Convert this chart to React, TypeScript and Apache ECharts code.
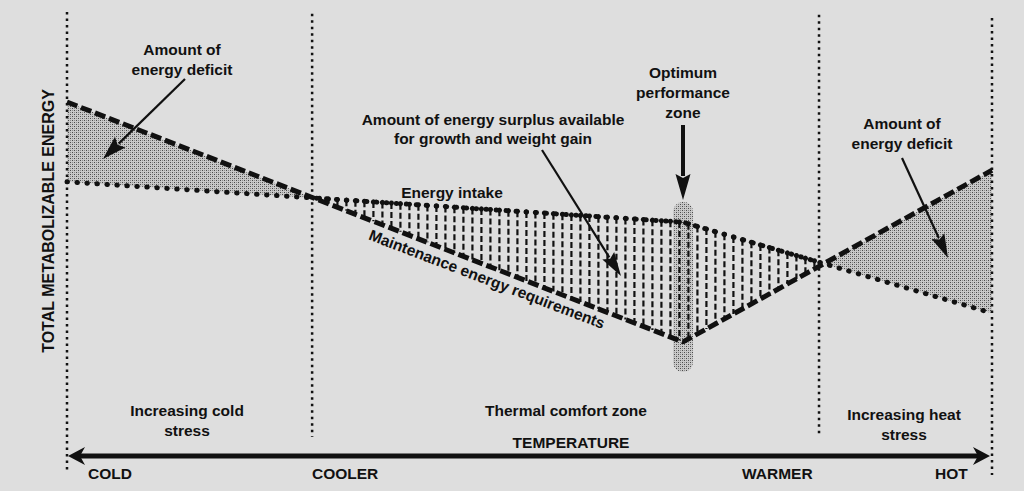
import React, { useEffect, useRef } from 'react';
import * as echarts from 'echarts';

// Temperature runs 0 (cold) .. 100 (hot); energy in arbitrary units 0..100
const maintenanceX = [0, 66.6, 100];
const maintenanceY = [80.6, 28.9, 65.9];
const intakeX = [0, 66.6, 100];
const intakeY = [63.4, 54.7, 35.1];
const boundaryX = [0, 26.5, 81.3, 100];
const boundaryTop = [100, 99.6, 99.4, 98.7];
const boundaryBottom = [0.9, 8.4, 8.4, 0.2];
const optimumX = 66.6;
const optimumRange = [22.4, 59.1];
const tempLabels = ['COLD', 'COOLER', 'WARMER', 'HOT'];
const zoneLabels = ['Increasing cold\nstress', 'Thermal comfort zone', 'Increasing heat\nstress'];

const FONT = "'Liberation Sans', Arial, Helvetica, sans-serif";
const INK = '#111';

function interp(xs: number[], ys: number[], x: number) {
  for (let i = 0; i < xs.length - 1; i++) {
    if (x >= xs[i] && x <= xs[i + 1]) {
      const t = (x - xs[i]) / (xs[i + 1] - xs[i]);
      return ys[i] + t * (ys[i + 1] - ys[i]);
    }
  }
  return x < xs[0] ? ys[0] : ys[ys.length - 1];
}

function segPts(xs: number[], ys: number[], a: number, b: number) {
  const pts: number[][] = [[a, interp(xs, ys, a)]];
  xs.forEach((x, i) => { if (x > a && x < b) pts.push([x, ys[i]]); });
  pts.push([b, interp(xs, ys, b)]);
  return pts;
}

function crossings() {
  const bps = Array.from(new Set([...maintenanceX, ...intakeX])).sort((p, q) => p - q);
  const res: number[] = [];
  for (let i = 0; i < bps.length - 1; i++) {
    const a = bps[i], b = bps[i + 1];
    const da = interp(intakeX, intakeY, a) - interp(maintenanceX, maintenanceY, a);
    const db = interp(intakeX, intakeY, b) - interp(maintenanceX, maintenanceY, b);
    if (da * db < 0) res.push(a + (b - a) * da / (da - db));
  }
  return res;
}

function arrow(x1: number, y1: number, x2: number, y2: number, w: number, hl: number, hw: number) {
  const dx = x2 - x1, dy = y2 - y1, L = Math.hypot(dx, dy);
  const ux = dx / L, uy = dy / L;
  const bx = x2 - ux * hl, by = y2 - uy * hl;
  const px = -uy, py = ux;
  return [
    { type: 'line', z: 20, shape: { x1, y1, x2: bx + ux * 2, y2: by + uy * 2 }, style: { stroke: INK, lineWidth: w } },
    {
      type: 'polygon', z: 20,
      shape: { points: [[x2, y2], [bx + px * hw / 2, by + py * hw / 2], [x2 - ux * hl * 0.85, y2 - uy * hl * 0.85], [bx - px * hw / 2, by - py * hw / 2]] },
      style: { fill: INK },
    },
  ];
}

function txt(text: string, x: number, y: number, opts: any = {}) {
  return {
    type: 'text', z: 20, x, y, rotation: opts.rotation || 0,
    style: {
      text, fill: INK, font: `bold ${opts.size || 15.5}px ${FONT}`,
      align: opts.align || 'center', verticalAlign: 'middle', lineHeight: opts.lh || 20,
    },
  };
}

export default function App() {
  const ref = useRef<HTMLDivElement>(null);
  useEffect(() => {
    if (!ref.current) return;
    const chart = echarts.init(ref.current, undefined, { renderer: 'svg' });

    const c = document.createElement('canvas');
    c.width = 4; c.height = 4;
    const ctx = c.getContext('2d')!;
    ctx.fillStyle = '#c9c9c9'; ctx.fillRect(0, 0, 4, 4);
    ctx.fillStyle = '#4a4a4a'; ctx.fillRect(0, 0, 1, 1); ctx.fillRect(2, 2, 1, 1);
    ctx.fillStyle = '#8c8c8c'; ctx.fillRect(2, 0, 1, 1); ctx.fillRect(0, 2, 1, 1);
    const pattern: any = { image: c.toDataURL(), repeat: 'repeat', imageWidth: 4, imageHeight: 4 };

    const [c1, c2] = crossings();
    const regions = [[0, c1], [c1, c2], [c2, 100]];

    const boundarySeries = boundaryX.map((bx, i) => ({
      type: 'line', z: 3, symbol: 'none', clip: false, silent: true,
      data: [[bx, boundaryTop[i]], [bx, boundaryBottom[i]]],
      lineStyle: { color: INK, width: 2.5, type: [2.5, 4] },
    }));

    const graphics: any[] = [
      txt('Amount of\nenergy deficit', 182, 59),
      ...arrow(185, 79, 103, 159, 2.2, 24, 15),
      txt('Amount of energy surplus available\nfor growth and weight gain', 493, 129, { lh: 19 }),
      ...arrow(542, 150, 621, 276, 2.2, 24, 14),
      txt('Optimum\nperformance\nzone', 683, 92),
      ...arrow(683, 125, 683, 200, 4, 26, 15),
      txt('Amount of\nenergy deficit', 902, 133),
      ...arrow(902, 158, 948, 258, 2.2, 24, 14),
      txt('Energy intake', 452, 192),
      txt('Maintenance energy requirements', 487, 279, { rotation: -0.365 }),
      txt('TOTAL METABOLIZABLE ENERGY', 48, 221, { rotation: Math.PI / 2, size: 16 }),
      txt(zoneLabels[0], 187, 420),
      txt(zoneLabels[1], 566, 410),
      txt(zoneLabels[2], 904, 424),
      txt('TEMPERATURE', 571, 442),
      { type: 'line', z: 20, shape: { x1: 80, y1: 456, x2: 978, y2: 456 }, style: { stroke: INK, lineWidth: 5 } },
      { type: 'polygon', z: 20, shape: { points: [[68, 456], [85, 447], [80, 456], [85, 465]] }, style: { fill: INK } },
      { type: 'polygon', z: 20, shape: { points: [[990, 456], [973, 447], [978, 456], [973, 465]] }, style: { fill: INK } },
      txt(tempLabels[0], 88, 473, { align: 'left' }),
      txt(tempLabels[1], 312, 473, { align: 'left' }),
      txt(tempLabels[2], 742, 473, { align: 'left' }),
      txt(tempLabels[3], 935, 473, { align: 'left' }),
    ];

    chart.setOption({
      animation: false,
      backgroundColor: '#dedede',
      grid: { left: 67, right: 32, top: 12, bottom: 15 },
      xAxis: { type: 'value', min: 0, max: 100, show: false },
      yAxis: { type: 'value', min: 0, max: 100, show: false },
      series: [
        {
          type: 'custom', z: 1, clip: false, silent: true,
          data: [[0], [1], [2], [3]],
          renderItem: (params: any, api: any) => {
            const k = api.value(0);
            if (k === 0) {
              const p1 = api.coord([optimumX, optimumRange[1]]);
              const p2 = api.coord([optimumX, optimumRange[0]]);
              return { type: 'rect', shape: { x: p1[0] - 10, y: p1[1], width: 20, height: p2[1] - p1[1], r: 10 }, style: { fill: pattern } };
            }
            const [a, b] = regions[k - 1];
            if (k === 2) {
              const pa = api.coord([a, 0])[0], pb = api.coord([b, 0])[0];
              const children: any[] = [];
              for (let px = pa + 6; px < pb - 3; px += 9) {
                const x = a + (px - pa) / (pb - pa) * (b - a);
                const yt = api.coord([x, interp(intakeX, intakeY, x)])[1];
                const yb = api.coord([x, interp(maintenanceX, maintenanceY, x)])[1];
                children.push({ type: 'line', shape: { x1: px, y1: yt, x2: px, y2: yb }, style: { stroke: INK, lineWidth: 2.2, lineDash: [6, 3] } });
                children.push({ type: 'circle', shape: { cx: px, cy: yt, r: 2.6 }, style: { fill: INK } });
              }
              return { type: 'group', children };
            }
            const pts = [
              ...segPts(maintenanceX, maintenanceY, a, b),
              ...segPts(intakeX, intakeY, a, b).reverse(),
            ].map((p) => api.coord(p));
            return { type: 'polygon', shape: { points: pts }, style: { fill: pattern } };
          },
        },
        ...boundarySeries,
        {
          name: 'Maintenance energy requirements', type: 'line', z: 5, symbol: 'none', clip: false, silent: true,
          data: maintenanceX.map((x, i) => [x, maintenanceY[i]]),
          lineStyle: { color: INK, width: 5, type: [11, 4] },
        },
        {
          name: 'Energy intake', type: 'line', z: 6, symbol: 'none', clip: false, silent: true,
          data: intakeX.map((x, i) => [x, intakeY[i]]),
          lineStyle: { color: INK, width: 5, type: [0.5, 9.5], cap: 'round' },
        },
      ],
      graphic: graphics,
    });
    return () => chart.dispose();
  }, []);
  return <div ref={ref} style={{ position: 'fixed', left: 0, top: 0, width: 1024, height: 491 }} />;
}
